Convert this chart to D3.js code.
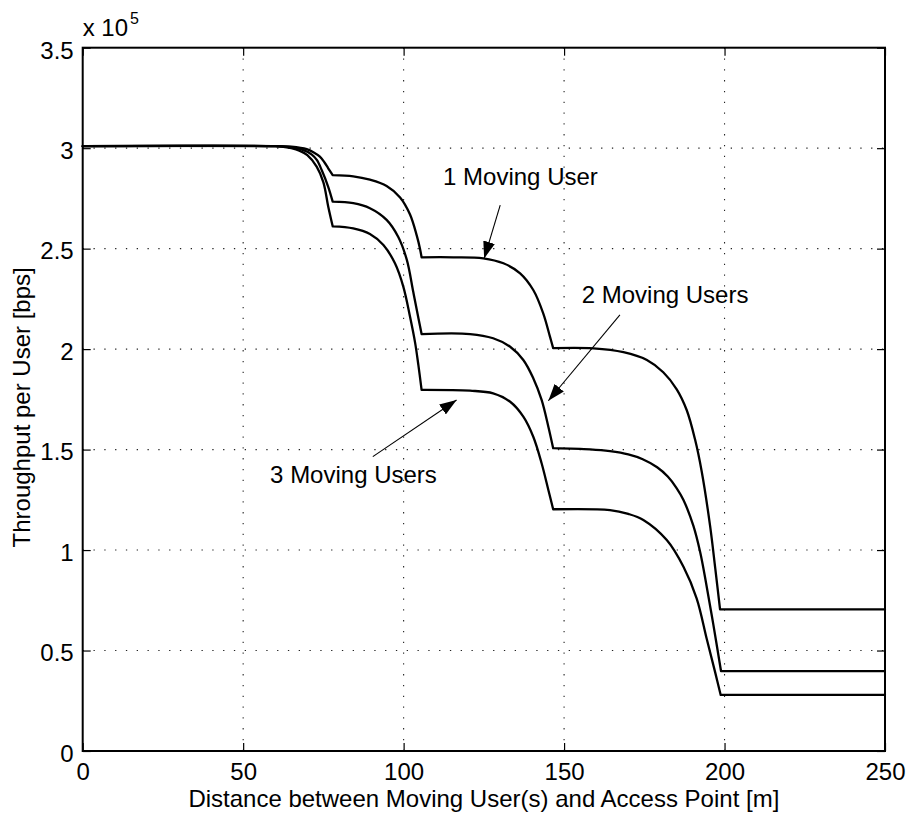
<!DOCTYPE html>
<html>
<head>
<meta charset="utf-8">
<script src="https://cdn.jsdelivr.net/npm/d3@7"></script>
<style>
  body { margin: 0; background: #fff; }
  text { font-family: "Liberation Sans", Arial, Helvetica, sans-serif; fill: #000; }
</style>
</head>
<body>
<svg id="chart" width="907" height="814"></svg>
<script>
// Throughput per user (in units of 10^5 bps) vs distance [m]
const xTicks = [0, 50, 100, 150, 200, 250];
const yTicks = [0, 0.5, 1, 1.5, 2, 2.5, 3, 3.5];
const yTickLabels = ["0", "0.5", "1", "1.5", "2", "2.5", "3", "3.5"];

// 1 moving user
const dist1 = [0, 60, 65, 69.8, 72, 73.9, 75.3, 76.5, 77.9,
  84.3, 89.5, 94.7, 98.9, 102.0, 104.1, 105.1, 105.6,
  115.5, 124.8, 131.1, 136.3, 140.4, 143.5, 145.6, 146.6,
  159.1, 168.5, 175.8, 180.9, 185.1, 188.2, 190.8, 192.9, 195.5, 197.1, 198.6,
  250];
const thr1 = [3.01, 3.01, 3.007, 2.995, 2.979, 2.958, 2.93, 2.900, 2.866,
  2.860, 2.843, 2.812, 2.755, 2.670, 2.565, 2.50, 2.457,
  2.457, 2.452, 2.427, 2.377, 2.294, 2.178, 2.062, 2.005,
  2.004, 1.985, 1.946, 1.885, 1.800, 1.697, 1.551, 1.39, 1.12, 0.91, 0.705,
  0.705];
const corners1 = [77.9, 105.6, 146.6, 198.6];

// 2 moving users
const dist2 = [0, 60, 65, 68, 71.4, 73, 74.5, 76.5, 77.9,
  84.3, 89.5, 94.7, 98.3, 101.0, 103.0, 104.6, 105.6,
  120.7, 127.9, 133.2, 137.3, 140.4, 143.0, 145.1, 146.6,
  158.1, 164.3, 170, 174.5, 179, 182.3, 185, 187.2, 190.3, 192.4, 194.2, 196.5, 198.9,
  250];
const thr2 = [3.01, 3.01, 3.005, 2.995, 2.968, 2.94, 2.89, 2.808, 2.734,
  2.726, 2.701, 2.643, 2.559, 2.444, 2.285, 2.155, 2.075,
  2.075, 2.054, 2.012, 1.946, 1.855, 1.747, 1.614, 1.507,
  1.501, 1.492, 1.476, 1.452, 1.412, 1.366, 1.31, 1.249, 1.12, 0.99, 0.84, 0.63, 0.398,
  0.398];
const corners2 = [77.9, 105.6, 146.6, 198.9];

// 3 moving users
const dist3 = [0, 60, 62, 65, 67.5, 70, 72.9, 75.0, 76.5, 77.9,
  84.3, 89.5, 93.7, 97.3, 99.9, 102.0, 103.6, 104.6, 105.6,
  120.7, 127.9, 133.2, 137.3, 140.4, 143.0, 145.1, 146.6,
  164.3, 170, 174.7, 182.0, 187.2, 191.3, 194.5, 197.1, 198.8,
  250];
const thr3 = [3.01, 3.01, 3.008, 3.0, 2.988, 2.965, 2.908, 2.83, 2.71, 2.611,
  2.601, 2.573, 2.518, 2.427, 2.311, 2.161, 2.03, 1.92, 1.797,
  1.793, 1.780, 1.738, 1.664, 1.564, 1.432, 1.299, 1.203,
  1.199, 1.18, 1.150, 1.050, 0.917, 0.76, 0.555, 0.39, 0.279,
  0.279];
const corners3 = [77.9, 105.6, 146.6, 198.8];

// Annotations: label anchor and arrow (tail -> tip), in data coordinates
const annotations = [
  { text: "1 Moving User",  tx: 112.3, ty: 2.817, x1: 130.1, y1: 2.717, x2: 125.1, y2: 2.451 },
  { text: "2 Moving Users", tx: 155.5, ty: 2.229, x1: 167.4, y1: 2.170, x2: 145.1, y2: 1.743 },
  { text: "3 Moving Users", tx: 58.4,  ty: 1.334, x1: 90.4,  y1: 1.465, x2: 116.5, y2: 1.747 }
];

const svg = d3.select("#chart");
const plotLeft = 82.7, plotRight = 885, plotTop = 47.7, plotBottom = 751;
const x = d3.scaleLinear().domain([0, 250]).range([plotLeft, plotRight]);
const y = d3.scaleLinear().domain([0, 3.5]).range([plotBottom, plotTop]);
const fontSize = 24;

// Grid
const grid = svg.append("g").attr("stroke", "#222").attr("stroke-width", 1.1)
  .attr("stroke-dasharray", "1.3,9.5");
grid.selectAll("line.vx").data(xTicks.slice(1, -1)).join("line")
  .attr("x1", d => x(d)).attr("x2", d => x(d)).attr("y1", plotBottom).attr("y2", plotTop);
grid.selectAll("line.hy").data(yTicks.slice(1, -1)).join("line")
  .attr("x1", plotLeft).attr("x2", plotRight).attr("y1", d => y(d)).attr("y2", d => y(d));

// Axes (inward ticks, mirrored on top and right)
const tickLen = 8;
const axB = svg.append("g").attr("transform", `translate(0,${plotBottom})`)
  .call(d3.axisBottom(x).tickValues(xTicks).tickSizeInner(-tickLen).tickSizeOuter(0).tickPadding(12));
const axT = svg.append("g").attr("transform", `translate(0,${plotTop})`)
  .call(d3.axisTop(x).tickValues(xTicks).tickSizeInner(-tickLen).tickSizeOuter(0).tickFormat(""));
const axL = svg.append("g").attr("transform", `translate(${plotLeft},0)`)
  .call(d3.axisLeft(y).tickValues(yTicks).tickSizeInner(-tickLen).tickSizeOuter(0).tickPadding(9)
    .tickFormat((d, i) => yTickLabels[i]));
const axR = svg.append("g").attr("transform", `translate(${plotRight},0)`)
  .call(d3.axisRight(y).tickValues(yTicks).tickSizeInner(-tickLen).tickSizeOuter(0).tickFormat(""));
[axB, axT, axL, axR].forEach(g => {
  g.attr("font-family", null).attr("font-size", null);
  g.select(".domain").remove();
  g.selectAll(".tick line").attr("stroke", "#000").attr("stroke-width", 1.2);
  g.selectAll("text").attr("font-size", fontSize).attr("fill", "#000");
});
axB.selectAll("text").attr("dy", "0.72em");
axL.selectAll("text").attr("dy", "0.43em");

// Box
svg.append("rect").attr("x", plotLeft).attr("y", plotTop)
  .attr("width", plotRight - plotLeft).attr("height", plotBottom - plotTop)
  .attr("fill", "none").attr("stroke", "#000").attr("stroke-width", 2);

// Curves, each split into smooth pieces at its corners
const line = d3.line().x(d => x(d[0])).y(d => y(d[1])).curve(d3.curveCatmullRom.alpha(0.5));
function pieces(xs, ys, corners) {
  const out = [];
  let cur = [];
  xs.forEach((xv, i) => {
    cur.push([xv, ys[i]]);
    if (corners.includes(xv)) { out.push(cur); cur = [[xv, ys[i]]]; }
  });
  if (cur.length > 1) out.push(cur);
  return out;
}
const series = [[dist1, thr1, corners1], [dist2, thr2, corners2], [dist3, thr3, corners3]];
series.forEach(([xs, ys, cs]) => {
  const d = pieces(xs, ys, cs).map(p => line(p)).join("");
  svg.append("path").attr("d", d).attr("fill", "none").attr("stroke", "#000")
    .attr("stroke-width", 2.3).attr("stroke-linejoin", "round").attr("stroke-linecap", "round");
});

// Annotations with arrows
svg.append("defs").append("marker").attr("id", "head")
  .attr("viewBox", "0 0 17 12").attr("refX", 17).attr("refY", 6)
  .attr("markerWidth", 17).attr("markerHeight", 12).attr("markerUnits", "userSpaceOnUse")
  .attr("orient", "auto")
  .append("path").attr("d", "M0,0L17,6L0,12Z").attr("fill", "#000");
annotations.forEach(a => {
  svg.append("text").attr("x", x(a.tx)).attr("y", y(a.ty)).attr("font-size", fontSize).text(a.text);
  svg.append("line").attr("x1", x(a.x1)).attr("y1", y(a.y1)).attr("x2", x(a.x2)).attr("y2", y(a.y2))
    .attr("stroke", "#000").attr("stroke-width", 1.1).attr("marker-end", "url(#head)");
});

// Axis titles and exponent
svg.append("text").attr("x", (plotLeft + plotRight) / 2).attr("y", 807).attr("text-anchor", "middle")
  .attr("font-size", fontSize).text("Distance between Moving User(s) and Access Point [m]");
svg.append("text").attr("transform", `translate(30,${(plotTop + plotBottom) / 2 + 8}) rotate(-90)`)
  .attr("text-anchor", "middle").attr("font-size", fontSize).text("Throughput per User [bps]");
const expo = svg.append("text").attr("x", plotLeft).attr("y", 36).attr("font-size", fontSize);
expo.append("tspan").text("x 10");
expo.append("tspan").attr("font-size", 16).attr("dy", -12).attr("dx", 2).text("5");
</script>
</body>
</html>
